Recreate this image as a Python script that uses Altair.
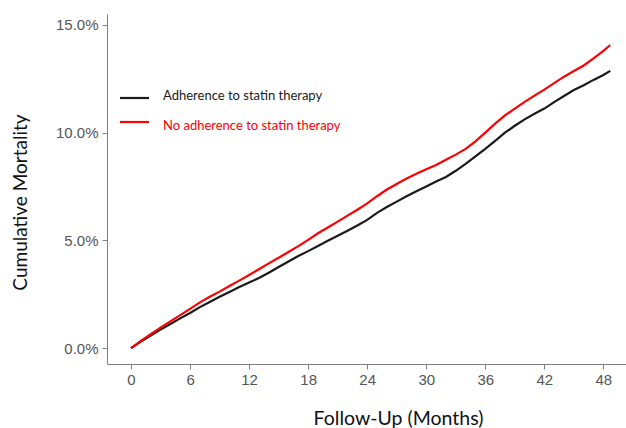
import altair as alt
import pandas as pd

# Cumulative mortality (%) by follow-up month for the two statin groups
months = [0, 1, 2, 3, 4, 5, 6, 7, 8, 9, 10, 11, 12, 13, 14, 15, 16, 17, 18, 19,
          20, 21, 22, 23, 24, 25, 26, 27, 28, 29, 30, 31, 32, 33, 34, 35, 36, 37,
          38, 39, 40, 41, 42, 43, 44, 45, 46, 47, 48, 48.7]
adherent = [0.00, 0.30, 0.58, 0.86, 1.12, 1.38, 1.63, 1.90, 2.14, 2.38, 2.60,
            2.83, 3.04, 3.25, 3.50, 3.76, 4.02, 4.27, 4.50, 4.74, 4.98, 5.21,
            5.45, 5.69, 5.95, 6.28, 6.55, 6.80, 7.05, 7.28, 7.50, 7.73, 7.94,
            8.23, 8.55, 8.90, 9.25, 9.62, 10.00, 10.32, 10.62, 10.88, 11.12,
            11.42, 11.70, 11.98, 12.20, 12.45, 12.68, 12.87]
non_adherent = [0.00, 0.33, 0.64, 0.95, 1.24, 1.53, 1.82, 2.12, 2.38, 2.62, 2.88,
                3.13, 3.39, 3.66, 3.93, 4.19, 4.46, 4.73, 5.02, 5.33, 5.60, 5.87,
                6.15, 6.42, 6.72, 7.05, 7.36, 7.62, 7.87, 8.09, 8.30, 8.50, 8.74,
                8.98, 9.25, 9.60, 10.00, 10.42, 10.80, 11.12, 11.43, 11.72, 12.00,
                12.30, 12.60, 12.86, 13.12, 13.45, 13.80, 14.07]

groups = ["Adherence to statin therapy", "No adherence to statin therapy"]
colors = ["#1a1a1a", "#ff0000"]
x_ticks = [0, 6, 12, 18, 24, 30, 36, 42, 48]
y_ticks = [0, 0.05, 0.10, 0.15]

df = pd.concat([
    pd.DataFrame({"month": months, "mort": [v / 100 for v in adherent], "group": groups[0]}),
    pd.DataFrame({"month": months, "mort": [v / 100 for v in non_adherent], "group": groups[1]}),
])

x_scale = alt.Scale(domain=[-2.44, 50.3], nice=False, zero=False)
y_scale = alt.Scale(domain=[-0.0074, 0.1551], nice=False, zero=False)
color_scale = alt.Scale(domain=groups, range=colors)

axis_common = dict(
    grid=False, domainColor="#808080", tickColor="#808080", tickSize=5,
    labelFont="Liberation Sans", labelFontSize=15, labelColor="#555555",
    titleFont="Lato", titleFontSize=19, titleFontWeight="normal", titleColor="#111111",
)

lines = alt.Chart(df).mark_line(strokeWidth=2.2).encode(
    x=alt.X("month:Q", scale=x_scale,
            axis=alt.Axis(values=x_ticks, format="d", title="Follow-Up (Months)",
                          labelPadding=3, titleX=291, titleY=54, titleFontSize=19.5,
                          titleBaseline="middle", **{k: v for k, v in axis_common.items()
                                                     if k != "titleFontSize"})),
    y=alt.Y("mort:Q", scale=y_scale,
            axis=alt.Axis(values=y_ticks, format=".1%", title="Cumulative Mortality",
                          labelPadding=4, titleX=-87, titleY=188, titleAngle=-90,
                          titleAlign="center", titleBaseline="middle", **axis_common)),
    color=alt.Color("group:N", scale=color_scale, legend=None),
    detail="group:N",
)

# Legend drawn as key lines with coloured labels
leg = pd.DataFrame({"group": groups, "ly": [84, 108], "ty": [82, 112]})
leg_lines = alt.Chart(leg).mark_rule(strokeWidth=2.2).encode(
    x=alt.value(13), x2=alt.value(42), y=alt.Y("ly:Q", scale=None),
    color=alt.Color("group:N", scale=color_scale, legend=None),
)
leg_text = alt.Chart(leg).mark_text(
    align="left", baseline="middle", font="Lato", fontSize=13,
).encode(
    x=alt.value(56), y=alt.Y("ty:Q", scale=None), text="group:N",
    color=alt.Color("group:N", scale=color_scale, legend=None),
)

chart = alt.layer(lines, leg_lines, leg_text).properties(
    width=519, height=350,
    background="white",
    autosize=alt.AutoSizeParams(type="none"),
    padding={"left": 107, "top": 14, "right": 0, "bottom": 64},
).configure_view(stroke=None, strokeWidth=0)

chart.save("out.html", embed_options={"renderer": "svg", "actions": False})
